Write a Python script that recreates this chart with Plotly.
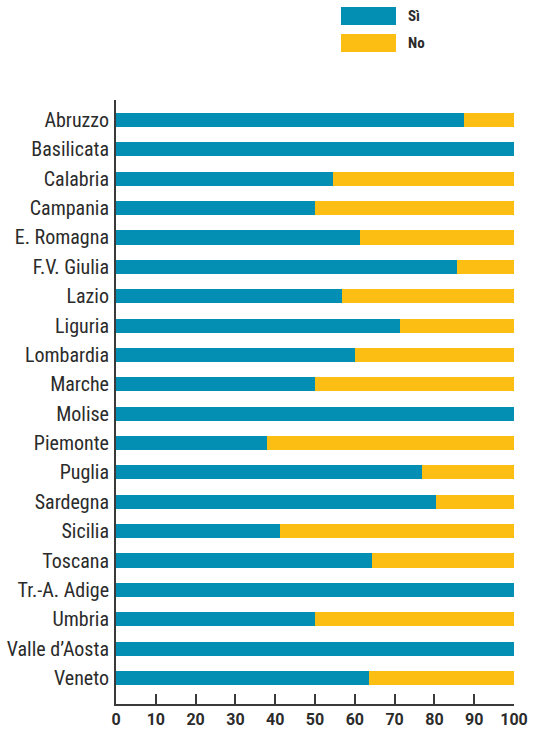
import plotly.graph_objects as go

# Regions and share of "Sì" answers (percent); "No" completes each bar to 100
regions = [
    "Abruzzo", "Basilicata", "Calabria", "Campania", "E. Romagna",
    "F.V. Giulia", "Lazio", "Liguria", "Lombardia", "Marche",
    "Molise", "Piemonte", "Puglia", "Sardegna", "Sicilia",
    "Toscana", "Tr.-A. Adige", "Umbria", "Valle d’Aosta", "Veneto",
]
si_values = [
    87.5, 100, 54.4, 50, 61.2,
    85.8, 56.7, 71.4, 60, 50,
    100, 38, 77, 80.3, 41.1,
    64.4, 100, 50, 100, 63.6,
]
no_values = [round(100 - v, 1) for v in si_values]

x_ticks = [0, 10, 20, 30, 40, 50, 60, 70, 80, 90, 100]
legend_labels = ["Sì", "No"]

TEAL = "#028fb3"
YELLOW = "#fcbe13"
AXIS = "#3a3a3a"
TEXT = "#2b2b2b"

W, H = 537, 729
M_L, M_R, M_T, M_B = 116, 23, 100, 25
PW, PH = W - M_L - M_R, H - M_T - M_B


def px_to_paper_x(px):
    return (px - M_L) / PW


def px_to_paper_y(py):
    return (H - M_B - py) / PH


fig = go.Figure()
fig.add_trace(go.Bar(
    y=regions, x=si_values, orientation="h", name=legend_labels[0],
    marker=dict(color=TEAL, line=dict(width=0)), hoverinfo="x+y",
))
fig.add_trace(go.Bar(
    y=regions, x=no_values, orientation="h", name=legend_labels[1],
    marker=dict(color=YELLOW, line=dict(width=0)), hoverinfo="x+y",
))

# Legend drawn above the plot: wide colour swatches with bold labels
for i, (lab, col) in enumerate(zip(legend_labels, [TEAL, YELLOW])):
    top = 7 + 27 * i
    fig.add_shape(
        type="rect", xref="paper", yref="paper",
        x0=px_to_paper_x(341), x1=px_to_paper_x(396),
        y0=px_to_paper_y(top), y1=px_to_paper_y(top + 18),
        fillcolor=col, line=dict(width=0),
    )
    fig.add_annotation(
        xref="paper", yref="paper",
        x=px_to_paper_x(406), y=px_to_paper_y(top + 9),
        text=lab, showarrow=False, xanchor="left", yanchor="middle",
        font=dict(family="Roboto Condensed, Roboto, sans-serif",
                  size=15, color=TEXT, weight="bold"),
    )

fig.update_layout(
    barmode="stack",
    bargap=0.52,
    width=W, height=H,
    margin=dict(l=M_L, r=M_R, t=M_T, b=M_B, autoexpand=False),
    paper_bgcolor="white", plot_bgcolor="white",
    showlegend=False,
    xaxis=dict(
        range=[0, 100], tickvals=x_ticks, ticktext=[str(t) for t in x_ticks],
        showgrid=False, zeroline=False, automargin=False,
        showline=True, linecolor=AXIS, linewidth=2,
        ticks="inside", ticklen=10, tickwidth=1.5, tickcolor=AXIS,
        tickfont=dict(family="Roboto, Liberation Sans, sans-serif", size=16,
                      color=TEXT, weight="bold"),
        fixedrange=True,
    ),
    yaxis=dict(
        type="category", categoryorder="array", categoryarray=regions,
        range=[len(regions) - 1 + 0.885, -0.68],
        showgrid=False, zeroline=False, automargin=False,
        showline=True, linecolor=AXIS, linewidth=2,
        ticks="", ticklabelstandoff=1,
        tickfont=dict(family="Roboto Condensed, DejaVu Sans Condensed, sans-serif",
                      size=20, color=TEXT),
        fixedrange=True,
    ),
)

fig.write_html("out.html")
